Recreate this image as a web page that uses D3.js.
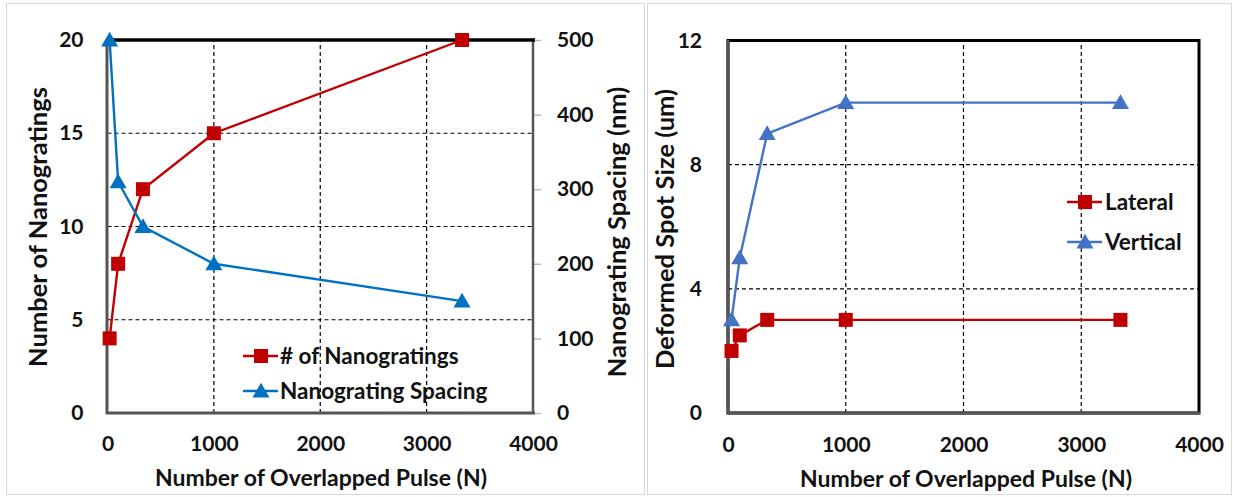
<!DOCTYPE html>
<html><head><meta charset="utf-8">
<script src="https://cdn.jsdelivr.net/npm/d3@7"></script>
<style>
body{margin:0;background:#fff;}
text{font-family:Lato,"Open Sans",sans-serif;font-weight:700;fill:#111;}
</style></head>
<body><svg id="c" width="1233" height="497"></svg>
<script>
// ---- data ----
const pulses = [20, 100, 333, 1000, 3333];
const nanogratings = [4, 8, 12, 15, 20];
const spacing = [500, 310, 250, 200, 150];
const pulsesR = [30, 100, 333, 1000, 3333];
const lateral = [2, 2.5, 3, 3, 3];
const vertical = [3, 5, 9, 10, 10];
const xTicks = [0, 1000, 2000, 3000, 4000];
const leftTicks = [0, 5, 10, 15, 20];
const rightTicks = [0, 100, 200, 300, 400, 500];
const spotTicks = [0, 4, 8, 12];
const legendL = ["# of Nanogratings", "Nanograting Spacing"];
const legendR = ["Lateral", "Vertical"];

const RED = "#C00000", BLUE1 = "#0070C0", BLUE2 = "#4472C4";
const TICK = 21, XT = 23, YT = 25.5, LEG = 22.5;
const svg = d3.select("#c");

// panel frames
svg.append("rect").attr("x",6.5).attr("y",3.5).attr("width",638).attr("height",491).attr("fill","none").attr("stroke","#d9d9d9");
svg.append("rect").attr("x",647.5).attr("y",3.5).attr("width",584).attr("height",491).attr("fill","none").attr("stroke","#d9d9d9");

function square(g, x, y, c){ g.append("rect").attr("x",x-7).attr("y",y-7).attr("width",14).attr("height",14).attr("fill",c); }
function tri(g, x, y, c){ g.append("path").attr("d",d3.symbol(d3.symbolTriangle, 125)()).attr("transform",`translate(${x},${y+1.5})`).attr("fill",c); }

function grid(g, x, y, xs, ys){
  const [x0,x1]=x.range(), [y0,y1]=y.range();
  xs.forEach(v=>g.append("line").attr("x1",x(v)).attr("x2",x(v)).attr("y1",y0).attr("y2",y1).attr("stroke","#000").attr("stroke-width",1.2).attr("stroke-dasharray","4,3"));
  ys.forEach(v=>g.append("line").attr("x1",x0).attr("x2",x1).attr("y1",y(v)).attr("y2",y(v)).attr("stroke","#000").attr("stroke-width",1.2).attr("stroke-dasharray","4,3"));
}

function series(g, xs, ys, x, y, color, kind){
  const line = d3.line().x((d,i)=>x(xs[i])).y(d=>y(d));
  g.append("path").datum(ys).attr("d",line).attr("fill","none").attr("stroke",color).attr("stroke-width",2.4);
  ys.forEach((d,i)=> kind==="sq" ? square(g,x(xs[i]),y(d),color) : tri(g,x(xs[i]),y(d),color));
}

function xAxis(g, x, yLab){
  const ax = d3.axisBottom(x).tickValues(xTicks).tickSize(0).tickPadding(0).tickFormat(d3.format("d"));
  const a = g.append("g").attr("transform",`translate(0,${yLab})`).call(ax);
  a.select(".domain").remove();
  a.selectAll("text").attr("font-size",TICK).attr("dy","0.35em").attr("fill","#111");
}

// ---------- Left chart ----------
{
  const g = svg.append("g");
  const x = d3.scaleLinear().domain([0,4000]).range([107.5,533]);
  const yL = d3.scaleLinear().domain([0,20]).range([413,40]);
  const yR = d3.scaleLinear().domain([0,500]).range([413,40]);
  grid(g, x, yL, [1000,2000,3000], [5,10,15]);
  const ra = g.append("g").attr("transform","translate(533,0)").call(d3.axisRight(yR).tickValues(rightTicks).tickSize(8).tickPadding(16));
  ra.select(".domain").remove();
  ra.selectAll("line").attr("stroke","#bbb").attr("stroke-width",1.5);
  ra.selectAll("text").attr("font-size",TICK).attr("fill","#111");
  const la = g.append("g").attr("transform","translate(107.5,0)").call(d3.axisLeft(yL).tickValues(leftTicks).tickSize(0).tickPadding(24));
  la.select(".domain").remove();
  la.selectAll("text").attr("font-size",TICK).attr("fill","#111");
  g.append("line").attr("x1",533).attr("x2",533).attr("y1",40).attr("y2",413).attr("stroke","#555").attr("stroke-width",2.5);
  g.append("line").attr("x1",106).attr("x2",535).attr("y1",40).attr("y2",40).attr("stroke","#000").attr("stroke-width",3.5);
  g.append("line").attr("x1",107).attr("x2",107).attr("y1",40).attr("y2",414).attr("stroke","#555").attr("stroke-width",3);
  g.append("line").attr("x1",106).attr("x2",535).attr("y1",413).attr("y2",413).attr("stroke","#555").attr("stroke-width",3);
  xAxis(g, x, 444);
  series(g, pulses, nanogratings, x, yL, RED, "sq");
  series(g, pulses, spacing, x, yR, BLUE1, "tri");
  g.append("text").attr("transform","translate(47,227) rotate(-90)").attr("text-anchor","middle").attr("font-size",YT).text("Number of Nanogratings");
  g.append("text").attr("transform","translate(626,232) rotate(-90)").attr("text-anchor","middle").attr("font-size",YT).text("Nanograting Spacing (nm)");
  g.append("text").attr("x",321).attr("y",486).attr("text-anchor","middle").attr("font-size",XT).text("Number of Overlapped Pulse (N)");
  const ly = [356, 391], lc = [RED, BLUE1];
  legendL.forEach((t,i)=>{
    g.append("line").attr("x1",243).attr("x2",278).attr("y1",ly[i]).attr("y2",ly[i]).attr("stroke",lc[i]).attr("stroke-width",2.4);
    i===0 ? square(g,261,ly[i],lc[i]) : tri(g,261,ly[i],lc[i]);
    g.append("text").attr("x",280).attr("y",ly[i]).attr("dy","0.35em").attr("font-size",LEG).text(t);
  });
}

// ---------- Right chart ----------
{
  const g = svg.append("g");
  const x = d3.scaleLinear().domain([0,4000]).range([728,1199]);
  const y = d3.scaleLinear().domain([0,12]).range([413,40.5]);
  grid(g, x, y, [1000,2000,3000], [4,8]);
  const la = g.append("g").attr("transform","translate(728,0)").call(d3.axisLeft(y).tickValues(spotTicks).tickSize(0).tickPadding(26));
  la.select(".domain").remove();
  la.selectAll("text").attr("font-size",TICK).attr("fill","#111");
  g.append("rect").attr("x",728).attr("y",40.5).attr("width",471).attr("height",372.5).attr("fill","none").attr("stroke","#000").attr("stroke-width",3);
  g.append("line").attr("x1",728).attr("x2",728).attr("y1",40).attr("y2",414).attr("stroke","#555").attr("stroke-width",3);
  g.append("line").attr("x1",727).attr("x2",1200).attr("y1",413).attr("y2",413).attr("stroke","#555").attr("stroke-width",3);
  xAxis(g, x, 445);
  series(g, pulsesR, lateral, x, y, RED, "sq");
  series(g, pulsesR, vertical, x, y, BLUE2, "tri");
  g.append("text").attr("transform","translate(674,229) rotate(-90)").attr("text-anchor","middle").attr("font-size",YT).text("Deformed Spot Size (um)");
  g.append("text").attr("x",966).attr("y",487).attr("text-anchor","middle").attr("font-size",XT).text("Number of Overlapped Pulse (N)");
  const ly = [202, 242], lc = [RED, BLUE2];
  legendR.forEach((t,i)=>{
    g.append("line").attr("x1",1067).attr("x2",1102).attr("y1",ly[i]).attr("y2",ly[i]).attr("stroke",lc[i]).attr("stroke-width",2.4);
    i===0 ? square(g,1085,ly[i],lc[i]) : tri(g,1085,ly[i],lc[i]);
    g.append("text").attr("x",1105).attr("y",ly[i]).attr("dy","0.35em").attr("font-size",LEG).text(t);
  });
}
</script></body></html>
